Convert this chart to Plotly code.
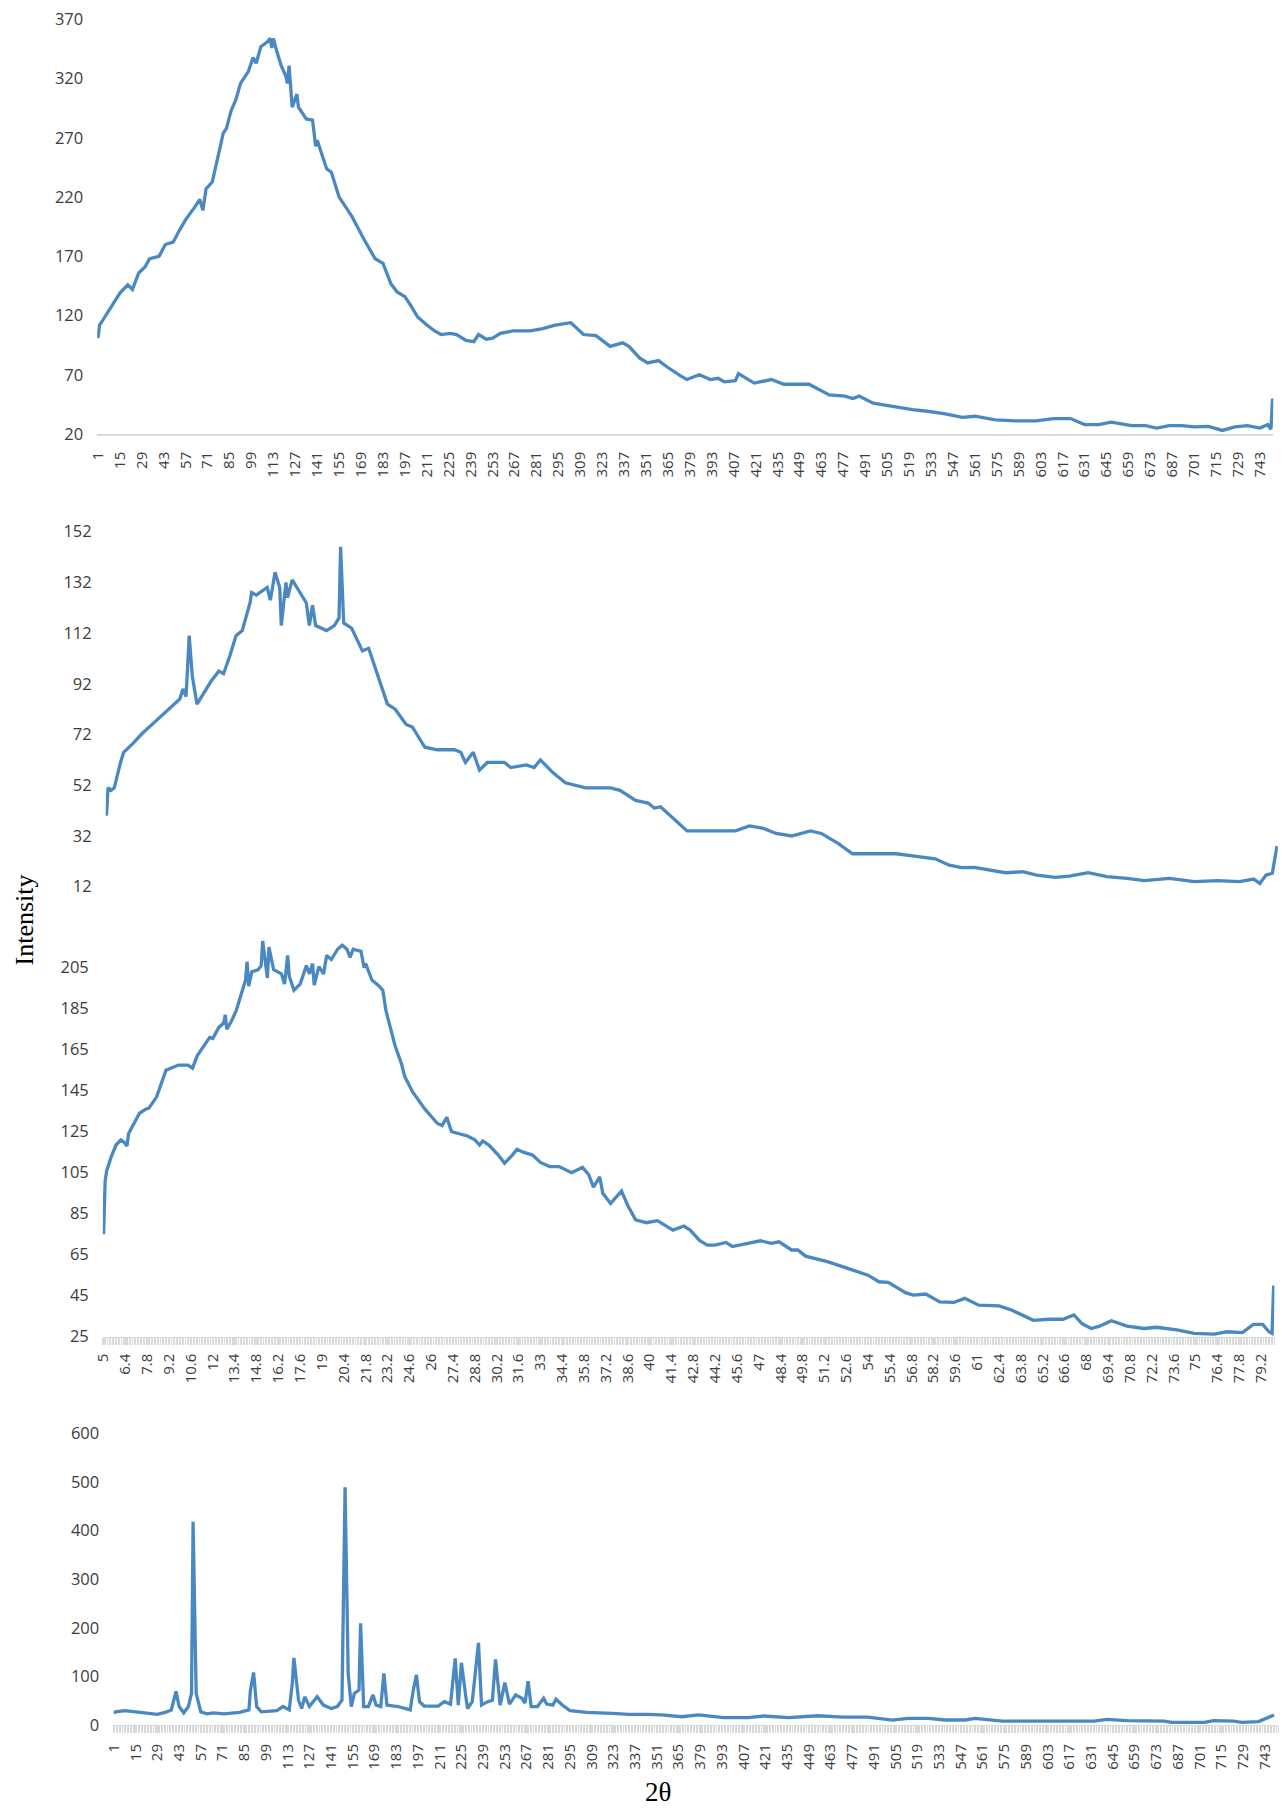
import plotly.graph_objects as go

# ---------------- data ----------------
# Panel 1 (top): x = point index, y = intensity
p1_x = [1, 2, 4, 10, 15, 20, 23, 27, 31, 34, 40, 44, 49, 53, 57, 63, 66, 68, 70, 74, 77, 81, 83, 86, 89,
        92, 97, 100, 102, 105, 109, 111, 112, 113, 115, 118, 121, 122, 123, 125, 128, 129, 134, 138, 140,
        141, 147, 150, 155, 163, 171, 178, 183, 188, 192, 197, 201, 205, 211, 216, 220, 226, 230, 236, 241,
        244, 249, 253, 258, 266, 277, 285, 293, 303, 307, 311, 319, 328, 336, 340, 347, 352, 359, 364, 373,
        377, 385, 392, 397, 401, 408, 410, 420, 431, 439, 455, 468, 478, 483, 487, 496, 505, 521, 532, 542,
        553, 561, 574, 587, 600, 611, 622, 631, 640, 648, 661, 670, 677, 685, 693, 701, 710, 719, 727, 735,
        743, 748, 750, 751]
p1_y = [101, 112, 116, 128, 139, 146, 142, 156, 161, 168, 170, 180, 182, 192, 201, 212, 218, 209, 227, 233,
        251, 274, 278, 293, 302, 316, 326, 338, 333, 347, 351, 354, 346, 354, 344, 331, 322, 316, 331, 296,
        307, 296, 286, 285, 263, 268, 244, 241, 220, 204, 184, 168, 164, 147, 140, 136, 128, 119, 112, 107,
        104, 105, 104, 99, 98, 104, 100, 101, 105, 107, 107, 109, 112, 114, 109, 104, 103, 94, 97, 94,
        84, 80, 82, 77, 69, 66, 70, 66, 67, 64, 65, 71, 63, 66, 62, 62, 53, 52, 50, 52,
        46, 44, 40.5, 39, 37, 34, 35, 32, 31, 31, 33, 33, 28, 28, 30, 27, 27, 25, 27, 27,
        26, 26.5, 23, 26, 27, 25, 28, 24, 50]

# Panel 2
p2_x = [1, 2, 4, 6, 10, 12, 18, 24, 32, 39, 44, 48, 50, 52, 54, 56, 59, 63, 68, 73, 76, 80, 84, 88, 92,
        93, 94, 97, 104, 106, 109, 112, 113, 116, 117, 120, 123, 129, 131, 133, 135, 142, 147, 150, 151,
        153, 158, 165, 169, 175, 181, 186, 193, 197, 205, 213, 224, 228, 231, 236, 240, 245, 256, 260, 270,
        275, 279, 287, 295, 308, 324, 330, 340, 348, 352, 356, 364, 373, 377, 391, 404, 413, 422, 430, 440,
        452, 459, 470, 479, 491, 507, 520, 532, 541, 549, 557, 568, 577, 588, 597, 609, 618, 630, 642, 655,
        666, 682, 698, 713, 727, 736, 740, 744, 748, 749, 751]
p2_y = [40, 51, 50, 51, 61, 65, 68.5, 72.5, 77, 81, 84, 86, 90, 87, 111, 95, 84, 88, 93, 97, 96, 103, 111,
        113, 121, 124, 128, 127, 130, 125, 136, 130, 115, 132, 126, 133, 130, 124, 115, 123, 115, 113, 115,
        118, 146, 116, 114, 105, 106, 95, 84, 82, 76, 75, 67, 66, 66, 65, 61, 65, 58, 61, 61, 59, 60,
        59, 62, 57, 53, 51, 51, 50, 46, 45, 43, 43.5, 39, 34, 34, 34, 34, 36, 35, 33, 32,
        34, 33, 29, 25, 25, 25, 24, 23, 20.5, 19.5, 19.6, 18.6, 17.5, 17.9, 16.6, 15.7, 16.2, 17.5, 16, 15.3,
        14.4, 15.3, 14, 14.4, 14, 15, 13.3, 16.6, 17.3, 21, 28]

# Panel 3
p3_x = [1, 2, 3, 6, 9, 12, 14, 16, 17, 20, 24, 28, 30, 35, 39, 41, 44, 49, 55, 58, 61, 65, 69, 71, 75,
        78, 79, 80, 83, 86, 90, 92, 93, 94, 96, 100, 102, 103, 106, 107, 110, 115, 117, 119, 120, 123, 127,
        131, 133, 135, 136, 139, 142, 144, 147, 151, 154, 157, 159, 161, 166, 168, 169, 173, 177, 180, 182,
        185, 188, 192, 194, 199, 207, 215, 218, 221, 224, 229, 234, 239, 242, 244, 248, 254, 258, 263, 266,
        270, 276, 281, 287, 293, 301, 308, 312, 315, 319, 321, 326, 333, 337, 342, 349, 356, 366, 373, 377,
        383, 388, 393, 400, 404, 414, 422, 429, 434, 442, 446, 451, 465, 478, 491, 498, 504, 515, 520, 528,
        537, 546, 553, 562, 575, 583, 597, 607, 616, 623, 628, 634, 639, 647, 657, 668, 676, 689, 700, 713,
        721, 731, 738, 744, 748, 750, 751]
p3_y = [75, 101, 106, 113, 118.5, 121, 120, 118, 124, 128, 134, 136, 136.5, 142, 150, 155, 156, 157.5, 157.5,
        156, 162, 166.5, 171, 170.5, 176, 178, 182, 175, 179, 184, 194, 199, 208, 196, 203, 204, 206, 218,
        200, 215, 204, 202, 197, 211, 201, 194, 197, 206, 202, 207, 196.5, 205.5, 202, 211, 209, 214, 216,
        214, 210, 214, 213, 205, 207, 199, 196.5, 194, 184, 175, 166.5, 158, 152, 144.5, 136, 129, 128, 132,
        125, 124, 123, 121, 118.5, 120.5, 118.5, 113.6, 109.6, 113.6, 116.4, 115, 113.6, 110, 108, 108, 105,
        107.6, 104, 98, 103, 95, 90, 96, 89, 82, 80.6, 81.6, 77, 79, 77, 72, 69.7, 69.7, 71, 69, 70.5, 71.8,
        70.5, 71.3, 67.3, 67.3, 64.3, 61.6, 58.3, 55, 51.8, 51.5, 46.5, 45.3, 45.8, 42, 41.7, 43.7, 40.4, 40,
        38, 33, 33.5, 33.5, 35.6, 31.5, 29, 30, 32.8, 30.2, 29, 29.6, 28.3, 26.6, 26.3, 27.4, 27, 31, 31,
        27.4, 26.6, 50]

# Panel 4 (bottom)
p4_x = [1, 2, 8, 16, 24, 29, 34, 38, 41, 43, 46, 49, 51, 52, 54, 57, 61, 65, 72, 82, 88, 89, 91, 93, 96,
        106, 110, 114, 116, 117, 120, 122, 124, 127, 132, 136, 141, 145, 148, 150, 152, 154, 156, 159, 160,
        162, 165, 168, 170, 173, 175, 177, 184, 192, 194, 196, 198, 201, 210, 214, 218, 221, 223, 225, 228,
        229, 232, 236, 238, 242, 245, 247, 250, 253, 256, 260, 264, 266, 268, 270, 274, 278, 280, 284, 286,
        290, 295, 306, 322, 333, 345, 354, 367, 378, 394, 410, 420, 436, 455, 471, 487, 503, 513, 526, 537,
        550, 556, 569, 574, 606, 633, 641, 654, 678, 683, 704, 710, 723, 728, 739, 744, 749]
p4_y = [24, 27, 29.5, 27, 24, 22, 26, 31, 69, 38, 25, 38, 65, 418, 65, 27, 23, 25, 23, 26, 31, 72, 108, 38,
        27, 29.5, 38, 31, 86, 138, 51, 34, 58, 38, 58, 41, 34, 38, 51, 489, 106, 38, 65, 72, 209,
        38, 38, 62, 41, 38, 106, 41, 38, 31, 72, 103, 48, 39, 39, 48, 43, 137, 41, 128, 55,
        34, 48, 169, 41, 48, 51, 135, 41, 87, 43, 62, 55, 45, 90, 38, 38, 55, 43, 41, 53,
        41, 29.5, 26, 24, 22, 22, 21, 17, 20.6, 15, 15, 18.5, 15, 19, 16, 16, 10, 13.7, 13.7, 10.3,
        10.3, 13.7, 10.3, 8, 8, 8, 11.7, 9, 8, 5.5, 5.5, 9, 8, 5.5, 7, 13.7, 20.6]

# Tick labels
idx_ticks = list(range(1, 744, 14))
idx_text = [str(v) for v in idx_ticks]
theta_text = ["5", "6.4", "7.8", "9.2", "10.6", "12", "13.4", "14.8", "16.2", "17.6", "19", "20.4", "21.8",
              "23.2", "24.6", "26", "27.4", "28.8", "30.2", "31.6", "33", "34.4", "35.8", "37.2", "38.6",
              "40", "41.4", "42.8", "44.2", "45.6", "47", "48.4", "49.8", "51.2", "52.6", "54", "55.4",
              "56.8", "58.2", "59.6", "61", "62.4", "63.8", "65.2", "66.6", "68", "69.4", "70.8", "72.2",
              "73.6", "75", "76.4", "77.8", "79.2"]
y1_ticks = [20, 70, 120, 170, 220, 270, 320, 370]
y2_ticks = [12, 32, 52, 72, 92, 112, 132, 152]
y3_ticks = [25, 45, 65, 85, 105, 125, 145, 165, 185, 205]
y4_ticks = [0, 100, 200, 300, 400, 500, 600]

# ---------------- layout helpers ----------------
PAGE_W, PAGE_H = 1287, 1810
OFF = 8                      # default page (body) margin around the plot div
W, H = PAGE_W - OFF, PAGE_H - OFF
LINE = "#4a88c2"
XFONT = dict(family="Open Sans", size=15, color="#3c3c3c")
YFONT = dict(family="Open Sans", size=16.5, color="#3c3c3c")
GRAYAX = "#d9d9d9"


def xdom(px0, px1):
    return [(px0 - OFF) / W, (px1 - OFF) / W]


def ydom(top, bottom):
    return [1 - (bottom - OFF) / H, 1 - (top - OFF) / H]


def px_x(p):
    return (p - OFF) / W


def px_y(p):
    return 1 - (p - OFF) / H


fig = go.Figure()
series = [(p1_x, p1_y), (p2_x, p2_y), (p3_x, p3_y), (p4_x, p4_y)]
for k, (xs, ys) in enumerate(series, start=1):
    fig.add_trace(go.Scatter(x=xs, y=ys, mode="lines", xaxis=f"x{k if k > 1 else ''}",
                             yaxis=f"y{k if k > 1 else ''}",
                             line=dict(color=LINE, width=3.3), showlegend=False, hoverinfo="skip"))

xr = [0.5, 751.5]
band_minor = dict(ticks="outside", ticklen=7, tickcolor=GRAYAX, tickwidth=1, dtick=1, tick0=0.5,
                  showgrid=False)

common_y = dict(showgrid=False, zeroline=False, showline=False, ticks="", tickfont=YFONT,
                ticklabelstandoff=13, automargin=False, ticklabeloverflow="allow")
common_x = dict(showgrid=False, zeroline=False, automargin=False, ticklabeloverflow="allow")

fig.update_layout(
    width=W, height=H, margin=dict(l=0, r=0, t=0, b=0, pad=0, autoexpand=False),
    paper_bgcolor="white", plot_bgcolor="white",
    xaxis=dict(domain=xdom(97.2, 1273.3), anchor="y", range=xr, tickmode="array", tickvals=idx_ticks,
               ticktext=idx_text, tickangle=-90, tickfont=XFONT, showline=True, linecolor=GRAYAX,
               linewidth=1.5, ticks="", ticklabelstandoff=10, **common_x),
    yaxis=dict(domain=ydom(19.5, 434), anchor="x", range=[20, 370], tickmode="array", tickvals=y1_ticks,
               **common_y),
    xaxis2=dict(domain=xdom(105.7, 1277.8), anchor="y2", range=xr, showticklabels=False, showline=False,
                ticks="", **common_x),
    yaxis2=dict(domain=ydom(531.7, 886.7), anchor="x2", range=[12, 152], tickmode="array",
                tickvals=y2_ticks, **common_y),
    xaxis3=dict(domain=xdom(102.8, 1274.4), anchor="y3", range=xr, tickmode="array", tickvals=idx_ticks,
                ticktext=theta_text, tickangle=-90, tickfont=XFONT, showline=True, linecolor=GRAYAX,
                linewidth=1, ticks="outside", ticklen=7, tickcolor=GRAYAX, minor=band_minor,
                ticklabelstandoff=3, **common_x),
    yaxis3=dict(domain=ydom(926.7, 1336.7), anchor="x3", range=[25, 225], tickmode="array",
                tickvals=y3_ticks, **common_y),
    xaxis4=dict(domain=xdom(113.2, 1278.0), anchor="y4", range=xr, tickmode="array", tickvals=idx_ticks,
                ticktext=idx_text, tickangle=-90, tickfont=XFONT, showline=True, linecolor=GRAYAX,
                linewidth=1, ticks="outside", ticklen=7, tickcolor=GRAYAX, minor=band_minor,
                ticklabelstandoff=5, **common_x),
    yaxis4=dict(domain=ydom(1433.3, 1725), anchor="x4", range=[0, 600], tickmode="array",
                tickvals=y4_ticks, **common_y),
    annotations=[
        dict(text="Intensity", x=px_x(24.5), y=px_y(920), xref="paper", yref="paper", showarrow=False,
             textangle=-90, font=dict(family="Liberation Serif", size=26, color="black"),
             xanchor="center", yanchor="middle"),
        dict(text="2θ", x=px_x(658), y=px_y(1792), xref="paper", yref="paper", showarrow=False,
             font=dict(family="Liberation Serif", size=27, color="black"), xanchor="center",
             yanchor="middle"),
    ],
)

fig.write_html("out.html")
